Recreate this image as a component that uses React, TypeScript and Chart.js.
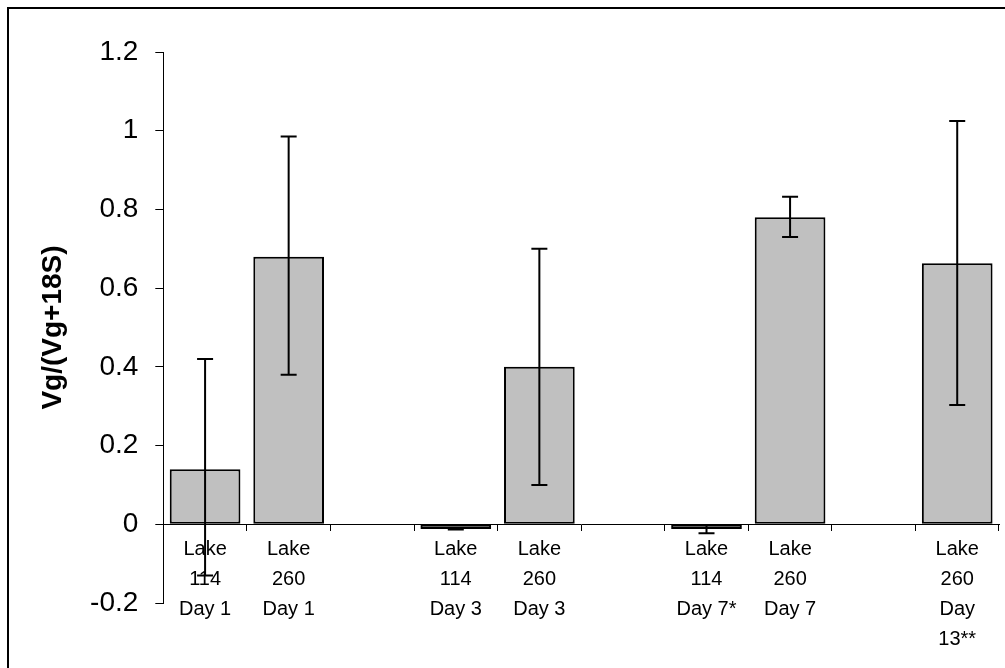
import React, { useEffect, useRef } from "react";
import { Chart, registerables } from "chart.js";

Chart.register(...registerables);

const categories: string[][] = [
  ["Lake", "114", "Day 1"],
  ["Lake", "260", "Day 1"],
  [""],
  ["Lake", "114", "Day 3"],
  ["Lake", "260", "Day 3"],
  [""],
  ["Lake", "114", "Day 7*"],
  ["Lake", "260", "Day 7"],
  [""],
  ["Lake", "260", "Day", "13**"],
];

const values: (number | null)[] = [0.14, 0.68, null, -0.012, 0.4, null, -0.012, 0.78, null, 0.663];
const errLow: (number | null)[] = [-0.13, 0.38, null, -0.013, 0.1, null, -0.023, 0.73, null, 0.303];
const errHigh: (number | null)[] = [0.42, 0.985, null, -0.011, 0.7, null, -0.002, 0.832, null, 1.025];

const yTicks = [-0.2, 0, 0.2, 0.4, 0.6, 0.8, 1, 1.2];
const yTitle = "Vg/(Vg+18S)";

const FONT = "'Liberation Sans', Arial, sans-serif";

const errorBarPlugin = {
  id: "errorBars",
  afterDatasetsDraw(chart: any) {
    const ctx = chart.ctx;
    const meta = chart.getDatasetMeta(0);
    const y = chart.scales.y;
    ctx.save();
    ctx.strokeStyle = "#000";
    ctx.lineWidth = 2;
    values.forEach((v, i) => {
      if (v === null || errLow[i] === null || errHigh[i] === null) return;
      const el = meta.data[i];
      if (!el) return;
      const x = el.x;
      const yl = y.getPixelForValue(errLow[i] as number);
      const yh = y.getPixelForValue(errHigh[i] as number);
      ctx.beginPath();
      ctx.moveTo(x, yl);
      ctx.lineTo(x, yh);
      ctx.moveTo(x - 8, yl);
      ctx.lineTo(x + 8, yl);
      ctx.moveTo(x - 8, yh);
      ctx.lineTo(x + 8, yh);
      ctx.stroke();
    });
    ctx.restore();
  },
};

const framePlugin = {
  id: "frame",
  afterDraw(chart: any) {
    const ctx = chart.ctx;
    ctx.save();
    ctx.fillStyle = "#000";
    ctx.fillRect(7, 7, chart.width - 7, 2);
    ctx.fillRect(7, 7, 2, chart.height - 7);
    ctx.restore();
  },
};

export default function App() {
  const ref = useRef<HTMLCanvasElement | null>(null);
  useEffect(() => {
    if (!ref.current) return;
    const chart = new Chart(ref.current, {
      type: "bar",
      data: {
        labels: categories,
        datasets: [
          {
            data: values,
            backgroundColor: "#c0c0c0",
            borderColor: "#000",
            borderWidth: 2,
            borderSkipped: false,
            categoryPercentage: 1,
            barPercentage: 0.846,
          },
        ],
      },
      options: {
        animation: false,
        responsive: false,
        events: [],
        layout: { padding: { left: 10, top: 52, right: 6, bottom: 65 } },
        plugins: {
          legend: { display: false },
          tooltip: { enabled: false },
        },
        scales: {
          x: {
            type: "category",
            position: { y: 0 } as any,
            offset: true,
            grid: {
              offset: true,
              drawOnChartArea: false,
              drawTicks: true,
              tickLength: 6,
              color: "#000",
            },
            border: { display: true, color: "#000", width: 1 },
            ticks: {
              color: "#000",
              font: { family: FONT, size: 20, lineHeight: 1.5 },
              padding: 4,
              maxRotation: 0,
              minRotation: 0,
              autoSkip: false,
            },
          },
          y: {
            min: -0.2,
            max: 1.2,
            afterBuildTicks: (scale: any) => {
              scale.ticks = yTicks.map((v) => ({ value: v }));
            },
            afterFit: (scale: any) => {
              scale.width = 153.3;
            },
            grid: {
              drawOnChartArea: false,
              drawTicks: true,
              tickLength: 8,
              color: "#000",
            },
            border: { display: true, color: "#000", width: 1 },
            ticks: {
              color: "#000",
              font: { family: FONT, size: 28 },
              padding: 17,
              callback: (v: any) => String(Number(Number(v).toFixed(1))),
            },
            title: {
              display: true,
              text: yTitle,
              color: "#000",
              font: { family: FONT, size: 28, weight: "bold" },
              padding: { top: 26, bottom: 0 },
            },
          },
        },
      },
      plugins: [errorBarPlugin, framePlugin],
    });
    return () => chart.destroy();
  }, []);
  return (
    <div style={{ position: "absolute", left: 0, top: 0, width: 1005, height: 668, background: "#fff" }}>
      <canvas ref={ref} width={1005} height={668} style={{ display: "block", width: 1005, height: 668 }} />
    </div>
  );
}
